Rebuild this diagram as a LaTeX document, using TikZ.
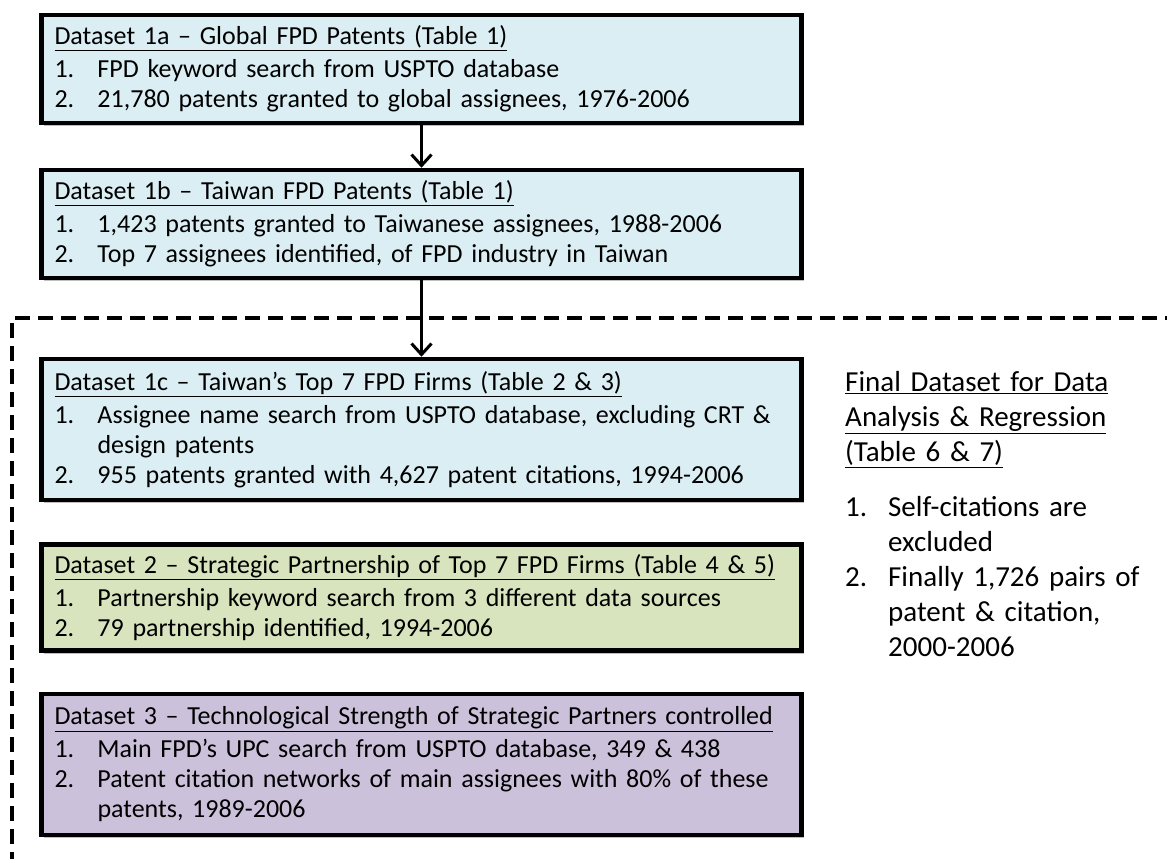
\documentclass[tikz,border=0pt]{standalone}
\usepackage{fontspec}
\setmainfont{Carlito}
\usetikzlibrary{arrows.meta,shadows}

\definecolor{boxblue}{RGB}{219,238,243}
\definecolor{boxgreen}{RGB}{215,228,189}
\definecolor{boxpurple}{RGB}{204,193,218}

% numbered line with hanging indent
\newcommand{\itm}[2]{\noindent\hangindent=43pt\hangafter=1\makebox[43pt][l]{#1}#2\par}
\newcommand{\ttl}[1]{\noindent\underline{#1}\par\vspace{3pt}}

\begin{document}
\begin{tikzpicture}[x=1pt,y=-1pt,
    dbox/.style={draw=black, line width=4.5pt, minimum width=760pt, text width=734pt,
        inner xsep=13pt, inner ysep=0pt, align=left, font=\fontsize{26}{30}\selectfont,
        drop shadow={shadow xshift=2pt, shadow yshift=-3pt, opacity=0.25, fill=black}},
    flow/.style={-{Straight Barb[length=11pt,width=20pt]}, line width=3pt},
    frame/.style={dash pattern=on 15pt off 8pt, line width=4pt},
    side/.style={anchor=north west, text width=322pt, align=left, inner sep=0pt,
        font=\fontsize{29}{35}\selectfont}]
    \useasboundingbox (0,0) rectangle (1167,859);

    % dashed frame round the final dataset
    \draw[frame] (1180,318) -- (12,318) -- (12,880);

    \node[dbox, fill=boxblue, minimum height=108pt] (d1a) at (421.5,69)
        {\ttl{Dataset 1a -- Global FPD Patents (Table 1)}
         \itm{1.}{FPD keyword search from USPTO database}
         \itm{2.}{21,780 patents granted to global assignees, 1976-2006}};
    \node[dbox, fill=boxblue, minimum height=108pt] (d1b) at (421.5,224)
        {\ttl{Dataset 1b -- Taiwan FPD Patents (Table 1)}
         \itm{1.}{1,423 patents granted to Taiwanese assignees, 1988-2006}
         \itm{2.}{Top 7 assignees identified, of FPD industry in Taiwan}};
    \node[dbox, fill=boxblue, minimum height=141pt] (d1c) at (421.5,429.5)
        {\ttl{Dataset 1c -- Taiwan's Top 7 FPD Firms (Table 2 \& 3)}
         \itm{1.}{Assignee name search from USPTO database, excluding CRT \&\newline design patents}
         \itm{2.}{955 patents granted with 4,627 patent citations, 1994-2006}};
    \node[dbox, fill=boxgreen, minimum height=106pt] (d2) at (421.5,597.5)
        {\ttl{Dataset 2 -- Strategic Partnership of Top 7 FPD Firms (Table 4 \& 5)}
         \itm{1.}{Partnership keyword search from 3 different data sources}
         \itm{2.}{79 partnership identified, 1994-2006}};
    \node[dbox, fill=boxpurple, minimum height=141pt] (d3) at (421.5,764.5)
        {\ttl{Dataset 3 -- Technological Strength of Strategic Partners controlled}
         \itm{1.}{Main FPD's UPC search from USPTO database, 349 \& 438}
         \itm{2.}{Patent citation networks of main assignees with 80\% of these\newline patents, 1989-2006}};

    \node[side] (fin) at (845,371)
        {\underline{Final Dataset for Data}\\\underline{Analysis \& Regression}\\\underline{(Table 6 \& 7)}};
    \node[side] (finlist) at (845,496)
        {\itm{1.}{Self-citations are\newline excluded}
         \itm{2.}{Finally 1,726 pairs of\newline patent \& citation,\newline 2000-2006}};

    \draw[flow] (d1a.south) -- (d1b.north);
    \draw[flow] (d1b.south) -- (d1c.north);
\end{tikzpicture}
\end{document}
